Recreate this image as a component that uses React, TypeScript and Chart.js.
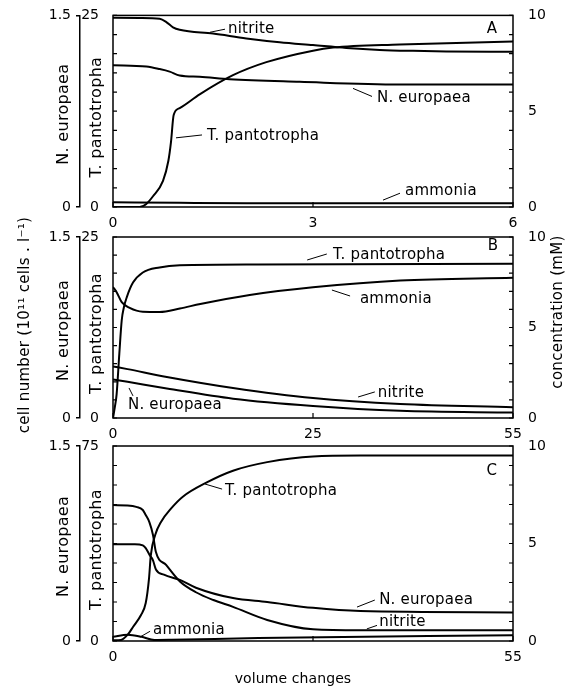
import React, { useEffect, useRef } from 'react';
import { Chart, registerables } from 'chart.js';

Chart.register(...registerables);

type Pt = [number, number];

// ---------- Panel A (x: volume changes 0-6) ----------
const nitriteA: Pt[] = [[0, 9.88], [0.4, 9.87], [0.7, 9.82], [0.8, 9.65], [0.9, 9.38], [1.0, 9.25], [1.5, 9.05], [2, 8.8], [2.5, 8.6], [3, 8.45], [3.5, 8.3], [4, 8.2], [4.5, 8.15], [5, 8.12], [6, 8.1]];
const tPantotrophaA: Pt[] = [[0, 0], [0.4, 0], [0.5, 0.4], [0.6, 1.4], [0.75, 3.4], [0.83, 6], [0.87, 8.5], [0.91, 12.0], [1.0, 12.9], [1.3, 14.7], [1.8, 17.2], [2.3, 18.9], [3.0, 20.4], [3.3, 20.8], [4.3, 21.2], [6, 21.6]];
const nEuropaeaA: Pt[] = [[0, 1.11], [0.5, 1.1], [0.7, 1.08], [0.85, 1.06], [1.0, 1.03], [1.3, 1.02], [1.75, 1.0], [2.8, 0.98], [4.3, 0.96], [6, 0.96]];
const ammoniaA: Pt[] = [[0, 0.25], [1, 0.22], [2, 0.2], [6, 0.2]];

// ---------- Panel B (x: volume changes 0-55) ----------
const tPantotrophaB: Pt[] = [[0, 0], [0.25, 1.5], [0.5, 3.3], [0.87, 8.9], [1.2, 13.5], [1.5, 15.3], [1.9, 16.7], [2.75, 18.7], [4.1, 20.1], [6.4, 20.8], [9.2, 21.1], [20, 21.2], [55, 21.3]];
const ammoniaB: Pt[] = [[0, 7.24], [0.5, 6.95], [1.2, 6.4], [2.3, 6.08], [4.1, 5.87], [6.4, 5.86], [9.2, 6.05], [12, 6.3], [18.8, 6.8], [27.5, 7.22], [39.5, 7.6], [55, 7.75]];
const nitriteB: Pt[] = [[0, 2.85], [2, 2.7], [7.4, 2.27], [16.5, 1.66], [27.5, 1.1], [39.5, 0.77], [55, 0.6]];
const nEuropaeaB: Pt[] = [[0, 0.32], [2, 0.3], [7.4, 0.245], [16.5, 0.16], [27.5, 0.1], [39.5, 0.06], [55, 0.045]];

// ---------- Panel C (x: volume changes 0-55) ----------
const tPantotrophaC: Pt[] = [[0, 0.3], [1.1, 0.4], [2.1, 2.7], [2.75, 5.4], [3.85, 10], [4.5, 14.6], [4.95, 24], [5.2, 33], [5.8, 40.8], [6.6, 45.8], [8, 51], [9.6, 55.5], [12.9, 61], [16.5, 65.5], [21.2, 68.8], [27.5, 71], [34, 71.3], [55, 71.3]];
const nitriteC: Pt[] = [[0, 6.97], [2, 6.95], [3.2, 6.88], [4.1, 6.72], [4.5, 6.46], [5.0, 6.1], [5.5, 5.44], [5.9, 4.56], [7.3, 3.9], [9.2, 3.05], [11.4, 2.5], [13.8, 2.1], [16.5, 1.75], [21.2, 1.08], [27.5, 0.6], [34, 0.55], [55, 0.55]];
const nEuropaeaC: Pt[] = [[0, 0.745], [3, 0.745], [4.1, 0.735], [4.5, 0.715], [5.05, 0.66], [5.5, 0.62], [5.9, 0.55], [7, 0.51], [9.2, 0.47], [11.4, 0.41], [16.5, 0.33], [21.2, 0.3], [27.5, 0.255], [34, 0.23], [55, 0.22]];
const ammoniaC: Pt[] = [[0, 0.22], [2, 0.32], [3.9, 0.22], [5.7, 0.05], [8, 0.06], [20, 0.15], [55, 0.3]];

// ---------- Axes ----------
const xTickValuesA = [0, 3, 6];
const xTickLabelsA = ['0', '3', '6'];
const xTickValuesB = [0, 27.5, 55];
const xTickLabelsB = ['0', '25', '55'];
const xTickValuesC = [0, 27.5, 55];
const xTickLabelsC = ['0', '', '55'];
const tAxisMax = [25, 25, 75];
const nAxisMax = 1.5;
const concAxisMax = 10;

const W = 566;
const H = 692;
const FONT = '"DejaVu Sans", sans-serif';
const FS = 14;

interface Ann { text: string; x: number; y: number; line?: [number, number, number, number]; }
interface Series { data: Pt[]; axis: 'yN' | 'yT' | 'yC'; }
interface PanelSpec {
  top: number; bottom: number;
  xMax: number; xTickValues: number[]; xTickLabels: string[];
  tMax: number;
  letter: string; letterAt: [number, number];
  series: Series[];
  annotations: Ann[];
  extra?: 'B' | 'C';
}

const panels: PanelSpec[] = [
  {
    top: 13, bottom: 207, xMax: 6, xTickValues: xTickValuesA, xTickLabels: xTickLabelsA, tMax: tAxisMax[0],
    letter: 'A', letterAt: [5.685, 9.28],
    series: [
      { data: nitriteA, axis: 'yC' }, { data: tPantotrophaA, axis: 'yT' },
      { data: nEuropaeaA, axis: 'yN' }, { data: ammoniaA, axis: 'yC' },
    ],
    annotations: [
      { text: 'nitrite', x: 1.725, y: 9.28, line: [1.455, 9.12, 1.68, 9.28] },
      { text: 'T. pantotropha', x: 1.41, y: 3.71, line: [0.945, 3.61, 1.335, 3.76] },
      { text: 'N. europaea', x: 3.96, y: 5.67, line: [3.6, 6.19, 3.885, 5.77] },
      { text: 'ammonia', x: 4.38, y: 0.82, line: [4.05, 0.36, 4.305, 0.72] },
    ],
  },
  {
    top: 237, bottom: 418, xMax: 55, xTickValues: xTickValuesB, xTickLabels: xTickLabelsB, tMax: tAxisMax[1],
    letter: 'B', letterAt: [52.25, 9.5],
    series: [
      { data: tPantotrophaB, axis: 'yT' }, { data: ammoniaB, axis: 'yC' },
      { data: nitriteB, axis: 'yC' }, { data: nEuropaeaB, axis: 'yN' },
    ],
    annotations: [
      { text: 'T. pantotropha', x: 30.25, y: 9.0, line: [26.7, 8.73, 29.4, 9.06] },
      { text: 'ammonia', x: 33.96, y: 6.57, line: [30.1, 7.07, 32.6, 6.74] },
      { text: 'nitrite', x: 36.4, y: 1.38, line: [33.7, 1.16, 36.0, 1.44] },
      { text: 'N. europaea', x: 2.06, y: 0.72, line: [2.2, 1.66, 2.75, 1.22] },
    ],
    extra: 'B',
  },
  {
    top: 446, bottom: 641, xMax: 55, xTickValues: xTickValuesC, xTickLabels: xTickLabelsC, tMax: tAxisMax[2],
    letter: 'C', letterAt: [52.1, 8.72],
    series: [
      { data: tPantotrophaC, axis: 'yT' }, { data: nitriteC, axis: 'yC' },
      { data: nEuropaeaC, axis: 'yN' }, { data: ammoniaC, axis: 'yC' },
    ],
    annotations: [
      { text: 'T. pantotropha', x: 15.4, y: 7.69, line: [12.65, 8.05, 15.0, 7.79] },
      { text: 'N. europaea', x: 36.6, y: 2.1, line: [33.55, 1.74, 36.0, 2.1] },
      { text: 'nitrite', x: 36.6, y: 0.95, line: [34.9, 0.62, 36.3, 0.8] },
      { text: 'ammonia', x: 5.5, y: 0.56, line: [3.7, 0.2, 5.1, 0.5] },
    ],
    extra: 'C',
  },
];

function vtext(ctx: CanvasRenderingContext2D, text: string, cx: number, cy: number) {
  ctx.save();
  ctx.translate(cx, cy);
  ctx.rotate(-Math.PI / 2);
  ctx.textAlign = 'center';
  ctx.textBaseline = 'middle';
  ctx.fillText(text, 0, 0);
  ctx.restore();
}

function setFont(ctx: any, size: number, spacing: number) {
  ctx.font = `${size}px ${FONT}`;
  try { ctx.letterSpacing = `${spacing}px`; } catch (e) { /* ignore */ }
}

function decorPlugin(spec: PanelSpec) {
  return {
    id: 'decor',
    afterDraw(chart: any) {
      const { ctx, chartArea: a, scales } = chart;
      const x = scales.x, yT = scales.yT, yC = scales.yC, yN = scales.yN;
      ctx.save();
      ctx.strokeStyle = '#000';
      ctx.fillStyle = '#000';
      ctx.lineWidth = 1.5;
      ctx.strokeRect(a.left, a.top, a.right - a.left, a.bottom - a.top);
      // inward ticks
      ctx.lineWidth = 1.2;
      ctx.beginPath();
      x.ticks.forEach((t: any) => { const p = x.getPixelForValue(t.value); ctx.moveTo(p, a.bottom); ctx.lineTo(p, a.bottom - 5); });
      yT.ticks.forEach((t: any) => { const p = yT.getPixelForValue(t.value); ctx.moveTo(a.left, p); ctx.lineTo(a.left + 4, p); });
      yC.ticks.forEach((t: any) => { const p = yC.getPixelForValue(t.value); ctx.moveTo(a.right, p); ctx.lineTo(a.right - 4, p); });
      ctx.stroke();
      // annotations
      setFont(ctx, 15, 0.2);
      ctx.textAlign = 'left';
      ctx.textBaseline = 'middle';
      ctx.lineWidth = 1;
      spec.annotations.forEach((an) => {
        ctx.fillText(an.text, x.getPixelForValue(an.x), yC.getPixelForValue(an.y));
        if (an.line) {
          ctx.beginPath();
          ctx.moveTo(x.getPixelForValue(an.line[0]), yC.getPixelForValue(an.line[1]));
          ctx.lineTo(x.getPixelForValue(an.line[2]), yC.getPixelForValue(an.line[3]));
          ctx.stroke();
        }
      });
      ctx.textAlign = 'center';
      ctx.fillText(spec.letter, x.getPixelForValue(spec.letterAt[0]), yC.getPixelForValue(spec.letterAt[1]));
      // left axis titles
      const cy = (a.top + a.bottom) / 2;
      setFont(ctx, 16, 0.3);
      vtext(ctx, 'N. europaea', yN.right - 16, cy + 3);
      vtext(ctx, 'T. pantotropha', yT.right - 16, cy + 6);
      if (spec.extra === 'B') {
        setFont(ctx, 15, 0.3);
        vtext(ctx, 'cell number (10\u00B9\u00B9 cells . l\u207B\u00B9)', 25, 325);
        vtext(ctx, 'concentration (mM)', 558, 312);
      }
      if (spec.extra === 'C') {
        setFont(ctx, 14, 0.1);
        ctx.textAlign = 'center';
        ctx.textBaseline = 'middle';
        ctx.fillText('volume changes', 293, 679);
      }
      ctx.restore();
    },
  };
}

function Panel({ spec }: { spec: PanelSpec }) {
  const ref = useRef<HTMLCanvasElement>(null);
  useEffect(() => {
    const font = { family: FONT, size: FS };
    const chart = new Chart(ref.current as HTMLCanvasElement, {
      type: 'line',
      data: {
        datasets: spec.series.map((s) => ({
          data: s.data.map(([x, y]) => ({ x, y })),
          yAxisID: s.axis,
          borderColor: '#000',
          borderWidth: 2,
          pointRadius: 0,
          fill: false,
          cubicInterpolationMode: 'monotone' as const,
        })),
      },
      options: {
        animation: false,
        responsive: false,
        events: [],
        layout: { padding: { left: 50, right: 13, top: spec.top, bottom: H - spec.bottom - 30 } },
        plugins: { legend: { display: false }, tooltip: { enabled: false }, title: { display: false } },
        scales: {
          x: {
            type: 'linear', min: 0, max: spec.xMax,
            afterBuildTicks: (s: any) => { s.ticks = spec.xTickValues.map((v) => ({ value: v })); },
            afterFit: (s: any) => { s.height = 30; },
            ticks: { callback: (_v: any, i: number) => spec.xTickLabels[i], font, color: '#000', padding: 0, autoSkip: false, maxRotation: 0 },
            grid: { display: false }, border: { display: false },
          },
          yT: {
            type: 'linear', position: 'left', weight: 0, min: 0, max: spec.tMax,
            afterFit: (s: any) => { s.width = 33; },
            ticks: { stepSize: spec.tMax / 10, callback: (v: any) => (v === 0 || v === spec.tMax ? String(v) : ''), font, color: '#000', padding: 6, autoSkip: false },
            grid: { display: false }, border: { display: false },
          },
          yN: {
            type: 'linear', position: 'left', weight: 10, min: 0, max: nAxisMax,
            afterFit: (s: any) => { s.width = 30; },
            ticks: { stepSize: nAxisMax, font, color: '#000', padding: 5 },
            grid: { display: true, drawOnChartArea: false, drawTicks: true, tickLength: 4, color: '#000', lineWidth: 1.5 },
            border: { display: true, color: '#000', width: 1.5 },
          },
          yC: {
            type: 'linear', position: 'right', min: 0, max: concAxisMax,
            afterFit: (s: any) => { s.width = 40; },
            ticks: { stepSize: 1, callback: (v: any) => (v % 5 === 0 ? String(v) : ''), font, color: '#000', padding: 7, autoSkip: false },
            grid: { display: false }, border: { display: false },
          },
        },
      } as any,
      plugins: [decorPlugin(spec)],
    });
    return () => chart.destroy();
  }, [spec]);
  return <canvas ref={ref} width={W} height={H} style={{ position: 'absolute', left: 0, top: 0 }} />;
}

export default function App() {
  return (
    <div style={{ position: 'absolute', left: 0, top: 0, width: W, height: H, background: '#fff', overflow: 'hidden' }}>
      {panels.map((p) => <Panel key={p.letter} spec={p} />)}
    </div>
  );
}
